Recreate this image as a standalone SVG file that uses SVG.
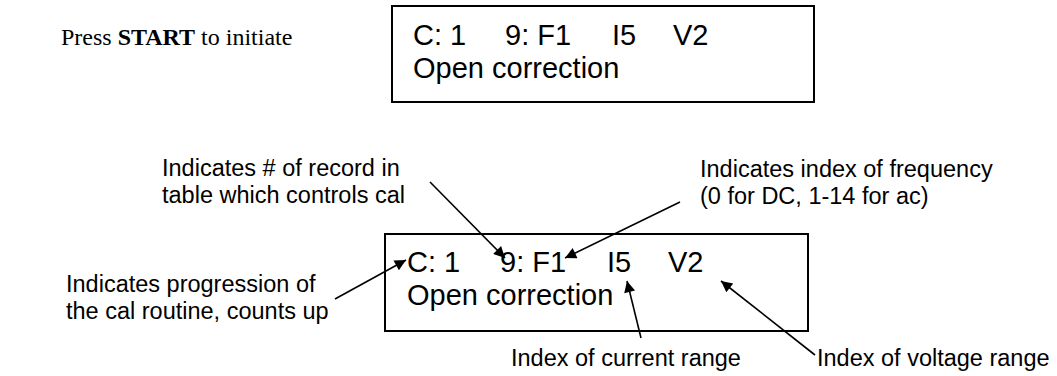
<svg xmlns="http://www.w3.org/2000/svg" width="1057" height="376" viewBox="0 0 1057 376">
<style>
.box{fill:none;stroke:#000;stroke-width:2}
.lcd{font-family:"Liberation Sans",Arial,sans-serif;font-size:29px;fill:#000}
.lbl{font-family:"Liberation Sans",Arial,sans-serif;font-size:23.5px;fill:#000}
.serif{font-family:"Liberation Serif","Times New Roman",serif;font-size:24px;fill:#000}
.arr{fill:none;stroke:#000;stroke-width:1.6;marker-end:url(#ah)}
</style>
<defs>
<marker id="ah" viewBox="0 0 10 10" refX="10" refY="5" markerWidth="9" markerHeight="7" markerUnits="strokeWidth" orient="auto">
<path d="M0,0 L10,5 L0,10 z" fill="#000"/>
</marker>
</defs>
<g id="instruction">
<text class="serif" x="61" y="45">Press <tspan font-weight="bold">START</tspan> to initiate</text>
</g>
<g id="display-top">
<rect class="box" x="392" y="6" width="422" height="96"/>
<text class="lcd" y="45"><tspan x="413">C: 1</tspan><tspan x="505">9: F1</tspan><tspan x="612">I5</tspan><tspan x="673">V2</tspan></text>
<text class="lcd" x="413" y="78">Open correction</text>
</g>
<g id="display-bottom">
<rect class="box" x="385" y="234" width="423" height="97"/>
<text class="lcd" y="272"><tspan x="407">C: 1</tspan><tspan x="500">9: F1</tspan><tspan x="607">I5</tspan><tspan x="668">V2</tspan></text>
<text class="lcd" x="407" y="305">Open correction</text>
</g>
<g id="label-record">
<text class="lbl" x="162" y="176">Indicates # of record in</text>
<text class="lbl" x="162" y="203">table which controls cal</text>
</g>
<g id="label-frequency">
<text class="lbl" x="700" y="177">Indicates index of frequency</text>
<text class="lbl" x="700" y="204">(0 for DC, 1-14 for ac)</text>
</g>
<g id="label-progression">
<text class="lbl" x="66" y="292">Indicates progression of</text>
<text class="lbl" x="66" y="319">the cal routine, counts up</text>
</g>
<g id="label-current">
<text class="lbl" x="511" y="366">Index of current range</text>
</g>
<g id="label-voltage">
<text class="lbl" x="817" y="366">Index of voltage range</text>
</g>
<g id="connectors">
<line class="arr" x1="430" y1="182" x2="505" y2="258"/>
<line class="arr" x1="335" y1="299" x2="406" y2="260"/>
<line class="arr" x1="680" y1="202" x2="565" y2="258"/>
<line class="arr" x1="641" y1="338" x2="627" y2="281"/>
<line class="arr" x1="815" y1="355" x2="721" y2="281"/>
</g>
</svg>
